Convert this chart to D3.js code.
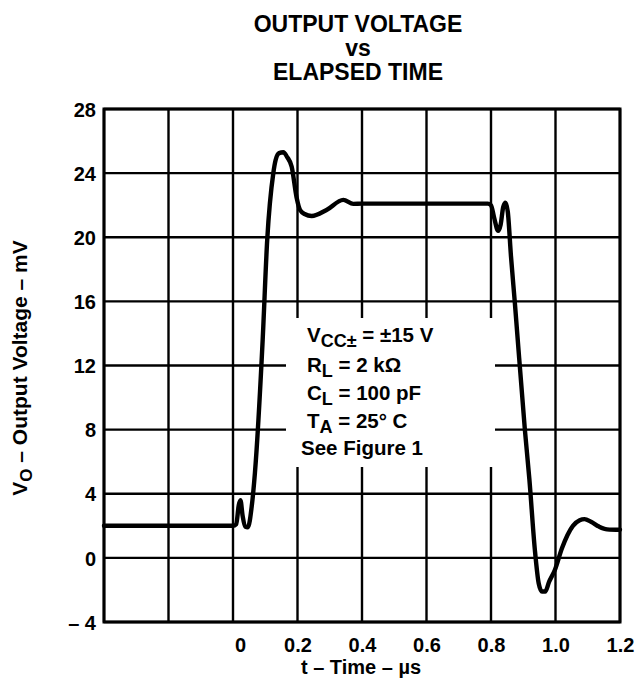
<!DOCTYPE html>
<html>
<head>
<meta charset="utf-8">
<script src="https://cdn.jsdelivr.net/npm/d3@7"></script>
<style>
html,body{margin:0;padding:0;background:#fff;}
svg{display:block;}
text{font-family:"Liberation Sans",Arial,Helvetica,sans-serif;font-weight:bold;fill:#000;}
</style>
</head>
<body>
<svg id="chart" width="636" height="681"></svg>
<script>
// ---- data ----
const timeUs = [-0.4, 0.0, 0.01, 0.018, 0.023, 0.03, 0.038, 0.046, 0.058, 0.068, 0.092, 0.106, 0.125, 0.132, 0.143, 0.156, 0.168, 0.182, 0.197, 0.208, 0.222, 0.244, 0.29, 0.342, 0.373, 0.4, 0.6, 0.79, 0.80, 0.81, 0.822, 0.83, 0.838, 0.845, 0.852, 0.862, 0.874, 0.905, 0.919, 0.936, 0.948, 0.958, 0.968, 0.98, 0.998, 1.02, 1.054, 1.075, 1.09, 1.11, 1.135, 1.16, 1.2];
const outputMv = [2.0, 2.0, 2.1, 3.3, 3.6, 2.6, 1.95, 1.9, 3.2, 5.3, 13.6, 19.8, 24.0, 24.8, 25.25, 25.3, 25.0, 24.4, 22.5, 21.7, 21.45, 21.33, 21.7, 22.33, 22.08, 22.1, 22.1, 22.1, 22.0, 21.2, 20.4, 20.8, 21.9, 22.15, 21.6, 18.8, 15.9, 8.0, 4.9, 0.5, -1.6, -2.1, -2.1, -1.5, -0.76, 0.6, 2.0, 2.35, 2.42, 2.25, 1.95, 1.78, 1.75];
const xGrid = [-0.4, -0.2, 0, 0.2, 0.4, 0.6, 0.8, 1.0, 1.2];
const xTickValues = [0, 0.2, 0.4, 0.6, 0.8, 1.0, 1.2];
const xTickLabels = ["0", "0.2", "0.4", "0.6", "0.8", "1.0", "1.2"];
const yTickValues = [-4, 0, 4, 8, 12, 16, 20, 24, 28];
const yTickLabels = ["\u2013 4", "0", "4", "8", "12", "16", "20", "24", "28"];
const titleLines = ["OUTPUT VOLTAGE", "vs", "ELAPSED TIME"];
const conditions = [
  {main: "V", sub: "CC\u00B1", rest: " = \u00B115 V"},
  {main: "R", sub: "L", rest: " = 2 k\u03A9"},
  {main: "C", sub: "L", rest: " = 100 pF"},
  {main: "T", sub: "A", rest: " = 25\u00B0 C"},
  {main: "See Figure 1", sub: "", rest: ""}
];

// ---- layout ----
const svg = d3.select("#chart");
const L = 104, R = 620, T = 109, B = 622;
const x = d3.scaleLinear().domain([-0.4, 1.2]).range([L, R]);
const y = d3.scaleLinear().domain([-4, 28]).range([B, T]);

// gridlines
const grid = svg.append("g");
grid.selectAll("line.v").data(xGrid).enter().append("line")
  .attr("x1", d => x(d)).attr("x2", d => x(d)).attr("y1", T).attr("y2", B)
  .attr("stroke", "#000").attr("stroke-width", 2.4);
grid.selectAll("line.h").data(yTickValues).enter().append("line")
  .attr("y1", d => y(d)).attr("y2", d => y(d)).attr("x1", L).attr("x2", R)
  .attr("stroke", "#000").attr("stroke-width", 2.4);

// frame
svg.append("rect").attr("x", L).attr("y", T).attr("width", R - L).attr("height", B - T)
  .attr("fill", "none").attr("stroke", "#000").attr("stroke-width", 3);

// annotation box (blocks the grid)
svg.append("rect").attr("x", 286).attr("y", 318).attr("width", 209).attr("height", 149)
  .attr("fill", "#fff");

// curve
const line = d3.line().x((d, i) => x(timeUs[i])).y(d => y(d)).curve(d3.curveMonotoneX);
svg.append("path").datum(outputMv).attr("d", line)
  .attr("fill", "none").attr("stroke", "#000").attr("stroke-width", 4.4)
  .attr("stroke-linejoin", "round").attr("stroke-linecap", "round");

// axes labels via d3 axes
const xAxis = d3.axisBottom(x).tickValues(xTickValues)
  .tickFormat((d, i) => xTickLabels[i]).tickSize(0).tickPadding(0);
const gx = svg.append("g").attr("transform", `translate(0,${B})`).call(xAxis);
gx.select(".domain").remove();
gx.selectAll("text").attr("font-size", 20).attr("dy", null).attr("y", 30)
  .attr("dx", d => d === 0 ? 7 : 0)
  .style("font-family", "'Liberation Sans',Arial,sans-serif").style("font-weight", "bold").attr("fill", "#000");

const yAxis = d3.axisLeft(y).tickValues(yTickValues)
  .tickFormat((d, i) => yTickLabels[i]).tickSize(0).tickPadding(0);
const gy = svg.append("g").attr("transform", `translate(${L - 8},0)`).call(yAxis);
gy.select(".domain").remove();
gy.selectAll("text").attr("font-size", 20).attr("dy", "0.36em")
  .style("font-family", "'Liberation Sans',Arial,sans-serif").style("font-weight", "bold").attr("fill", "#000");

// title
svg.selectAll("text.title").data(titleLines).enter().append("text")
  .attr("class", "title").attr("x", 358).attr("y", (d, i) => 32 + i * 24)
  .attr("text-anchor", "middle").attr("font-size", 23).text(d => d);

// axis titles
svg.append("text").attr("x", 361).attr("y", 674).attr("text-anchor", "middle")
  .attr("font-size", 20).text("t \u2013 Time \u2013 \u00B5s");

const yt = svg.append("text").attr("transform", "translate(27,368) rotate(-90)")
  .attr("text-anchor", "middle").attr("font-size", 21);
yt.append("tspan").text("V");
yt.append("tspan").attr("font-size", 17).attr("dy", 5).text("O");
yt.append("tspan").attr("dy", -5).text(" \u2013 Output Voltage \u2013 mV");

// conditions
const condX = [307, 307, 307, 307, 301];
const condY = [342, 372, 400, 428, 455];
conditions.forEach((c, i) => {
  const t = svg.append("text").attr("x", condX[i]).attr("y", condY[i]).attr("font-size", 20.5);
  t.append("tspan").text(c.main);
  if (c.sub) {
    t.append("tspan").attr("font-size", 18).attr("dy", 5).text(c.sub);
    t.append("tspan").attr("dy", -5).text(c.rest);
  }
});
</script>
</body>
</html>
